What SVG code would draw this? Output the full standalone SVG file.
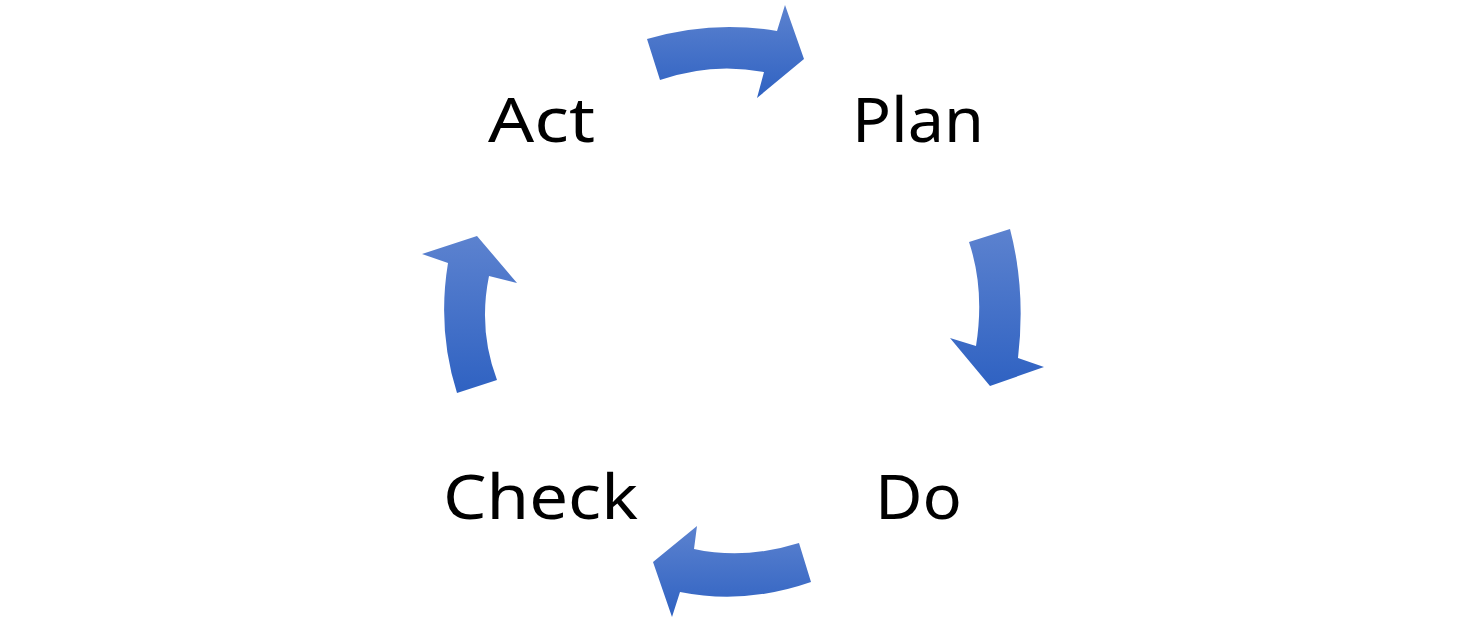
<svg xmlns="http://www.w3.org/2000/svg" width="1479" height="623" viewBox="0 0 1479 623">
<defs>
<linearGradient id="g" x1="0" y1="0" x2="0" y2="1">
<stop offset="0" stop-color="#5c82cf"/>
<stop offset="1" stop-color="#2f62c2"/>
</linearGradient>
<style>
.arrow{fill:url(#g)}
.lbl{font-family:"Noto Sans","Liberation Sans",sans-serif;font-size:62px;fill:#000}
</style>
</defs>
<rect width="1479" height="623" fill="#fff"/>
<g id="act"><text class="lbl" x="488" y="142" textLength="107" lengthAdjust="spacingAndGlyphs">Act</text></g>
<g id="plan"><text class="lbl" x="852" y="142" textLength="132" lengthAdjust="spacingAndGlyphs">Plan</text></g>
<g id="do"><text class="lbl" x="875" y="519" textLength="87" lengthAdjust="spacingAndGlyphs">Do</text></g>
<g id="check"><text class="lbl" x="443" y="519" textLength="195" lengthAdjust="spacingAndGlyphs">Check</text></g>
<g id="connectors">
<path class="arrow" d="M647,39 Q712,20 777,31 L785,5 L804,59 L757,98 L764,72 Q712,62 660,80 Z"/>
<path class="arrow" d="M969,242 Q985,290 976,346 L950,338 L990,386 L1044,367 L1018,358 Q1026,290 1010,229 Z"/>
<path class="arrow" d="M799,543 Q745,560 694,549 L697,526 L653,562 L672,617 L680,592 Q745,605 811,582 Z"/>
<path class="arrow" d="M457,393 Q437,330 448,263 L422,254 L477,236 L517,283 L489,276 Q478,330 497,380 Z"/>
</g>
</svg>
